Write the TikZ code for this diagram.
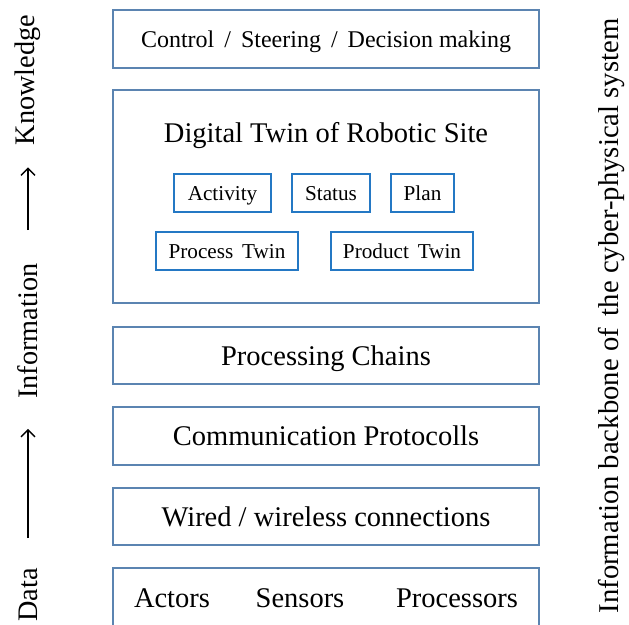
\documentclass[tikz,border=0pt]{standalone}
\usepackage{fontspec}
\setmainfont{Liberation Serif}
\usetikzlibrary{arrows.meta}

\definecolor{layerblue}{HTML}{5B84B1}
\definecolor{twinblue}{HTML}{2478C4}

\tikzset{
  layer/.style={draw=layerblue, line width=1.3pt, minimum width=426pt, inner sep=0pt},
  twin/.style={draw=twinblue, line width=1.3pt, minimum height=38pt, inner sep=0pt,
    text height=14pt, text depth=0pt, font=\fontsize{21.2}{23}\selectfont},
  side/.style={rotate=90, inner sep=0pt, text height=, text depth=, font=\fontsize{28.3}{30}\selectfont},
  updir/.style={-{Straight Barb[length=7pt,width=14pt,line width=1.4pt]}, line width=1.4pt}
}

\begin{document}
\begin{tikzpicture}[x=1pt, y=-1pt, font=\fontsize{28.5}{30}\selectfont, text height=19pt, text depth=0pt]
\useasboundingbox (0,0) rectangle (629,624);

% Layers
\node[layer, minimum height=58pt, text height=16pt, font=\fontsize{24}{26}\selectfont] (control) at (326,39) {Control \,/\, Steering \,/\, Decision making};
\node[layer, minimum height=213pt] (twinsite) at (326,196.5) {};
\node (twintitle) at (326,133) {Digital Twin of Robotic Site};
\node[layer, minimum height=57pt] (chains) at (326,355.5) {Processing Chains};
\node[layer, minimum height=58pt] (protocols) at (326,436) {Communication Protocolls};
\node[layer, minimum height=57pt] (wiring) at (326,516.5) {Wired / wireless connections};
\node[layer, minimum height=64pt] (devices) at (326,600) {};

% Devices
\node (actors) at (172,598) {Actors};
\node (sensors) at (300,598) {Sensors};
\node (processors) at (457,598) {Processors};

% Twin parts
\node[twin, minimum width=97pt] (activity) at (222.5,193) {Activity};
\node[twin, minimum width=78pt] (status) at (331,193) {Status};
\node[twin, minimum width=63pt] (plan) at (422.5,193) {Plan};
\node[twin, minimum width=142pt] (process) at (227,251) {Process \,Twin};
\node[twin, minimum width=142pt] (product) at (402,251) {Product \,Twin};

% Data -> Information -> Knowledge
\node[side] (data) at (28,595) {Data};
\node[side] (info) at (28,331) {Information};
\node[side] (knowledge) at (28,80) {Knowledge};
\draw[updir, shorten <=30pt, shorten >=30pt] (data.east) -- (info.west);
\draw[updir, shorten <=33pt, shorten >=22pt] (info.east) -- (knowledge.west);

% Backbone
\node[side, font=\fontsize{28.7}{30}\selectfont] (backbone) at (611,316) {Information backbone of \,the cyber-physical system};

\end{tikzpicture}
\end{document}
